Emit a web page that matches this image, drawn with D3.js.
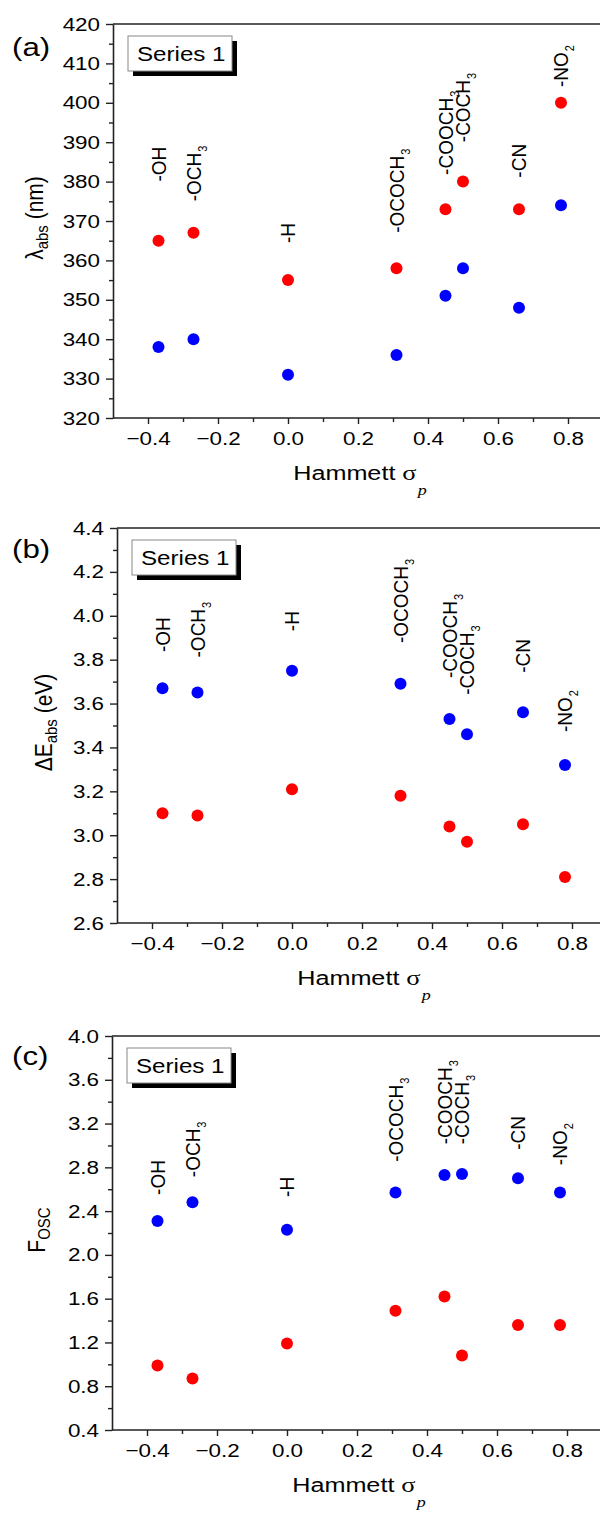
<!DOCTYPE html>
<html><head><meta charset="utf-8">
<script src="https://cdn.jsdelivr.net/npm/d3@7"></script>
<style>body{margin:0;background:#fff} svg{display:block}</style>
</head><body>
<svg id="chart" width="600" height="1513"></svg>
<script>
// ---------- data ----------
const substituents = ["-OH", "-OCH3", "-H", "-OCOCH3", "-COOCH3", "-COCH3", "-CN", "-NO2"];
const hammettSigmaP = [-0.37, -0.27, 0.00, 0.31, 0.45, 0.50, 0.66, 0.78];

const lambdaRed  = [365, 367, 355, 358, 373, 380, 373, 400];
const lambdaBlue = [338, 340, 331, 336, 351, 358, 348, 374];
const lambdaLabelAt = [380, 375, 364.4, 367, 381.7, 390, 381, 404];

const deltaEBlue = [3.67, 3.65, 3.75, 3.69, 3.53, 3.46, 3.56, 3.32];
const deltaERed  = [3.10, 3.09, 3.21, 3.18, 3.04, 2.97, 3.05, 2.81];
const deltaELabelAt = [3.835, 3.81, 3.93, 3.876, 3.716, 3.64, 3.74, 3.47];

const foscBlue = [2.31, 2.48, 2.23, 2.57, 2.73, 2.74, 2.70, 2.57];
const foscRed  = [0.99, 0.87, 1.19, 1.49, 1.62, 1.08, 1.36, 1.36];
const foscLabelAt = [2.548, 2.71, 2.53, 2.85, 3.01, 3.01, 2.96, 2.82];

const xTicks = [-0.4, -0.2, 0.0, 0.2, 0.4, 0.6, 0.8];
const xMinorTicks = [-0.3, -0.1, 0.1, 0.3, 0.5, 0.7];
const lambdaTicks = [320, 330, 340, 350, 360, 370, 380, 390, 400, 410, 420];
const lambdaMinorTicks = [325, 335, 345, 355, 365, 375, 385, 395, 405, 415];
const deltaETicks = [2.6, 2.8, 3.0, 3.2, 3.4, 3.6, 3.8, 4.0, 4.2, 4.4];
const deltaEMinorTicks = [2.7, 2.9, 3.1, 3.3, 3.5, 3.7, 3.9, 4.1, 4.3];
const foscTicks = [0.4, 0.8, 1.2, 1.6, 2.0, 2.4, 2.8, 3.2, 3.6, 4.0];
const foscMinorTicks = [0.6, 1.0, 1.4, 1.8, 2.2, 2.6, 3.0, 3.4, 3.8];

const legendLabel = "Series 1";
const xTitle = "Hammett ";
const panelLetters = ["(a)", "(b)", "(c)"];

// ---------- layout ----------
const SANS = "'Liberation Sans', Arial, sans-serif";
const SERIF = "'Liberation Serif', 'Times New Roman', serif";
const STRETCH = 1.18;
const RED = "#ff0000", BLUE = "#0000ff", INK = "#000";

const panels = [
  { letter: panelLetters[0], red: lambdaRed, blue: lambdaBlue, labelAt: lambdaLabelAt,
    domain: [320, 420], ticks: lambdaTicks, minor: lambdaMinorTicks, fmt: d3.format("d"),
    left: 113, right: 603, top: 24, bottom: 418, letterBase: 56, titleX: 43,
    title: [{t: "λ"}, {t: "abs", sub: true}, {t: " (nm)"}] },
  { letter: panelLetters[1], red: deltaERed, blue: deltaEBlue, labelAt: deltaELabelAt,
    domain: [2.6, 4.4], ticks: deltaETicks, minor: deltaEMinorTicks, fmt: d3.format(".1f"),
    left: 117, right: 607, top: 528, bottom: 923, letterBase: 558, titleX: 52,
    title: [{t: "ΔE"}, {t: "abs", sub: true}, {t: " (eV)"}] },
  { letter: panelLetters[2], red: foscRed, blue: foscBlue, labelAt: foscLabelAt,
    domain: [0.4, 4.0], ticks: foscTicks, minor: foscMinorTicks, fmt: d3.format(".1f"),
    left: 112, right: 602, top: 1036, bottom: 1430, letterBase: 1065, titleX: 45,
    title: [{t: "F"}, {t: "OSC", sub: true}] }
];

const svg = d3.select("#chart");

panels.forEach(p => {
  const x = d3.scaleLinear().domain([-0.5, 0.9]).range([p.left, p.right]);
  const y = d3.scaleLinear().domain(p.domain).range([p.bottom, p.top]);
  const g = svg.append("g");

  // top frame line
  g.append("line").attr("x1", p.left).attr("x2", p.right)
    .attr("y1", p.top).attr("y2", p.top)
    .attr("stroke", "#222").attr("stroke-width", 1.6);

  // y axis
  const yAxisG = g.append("g").attr("transform", `translate(${p.left},0)`)
    .call(d3.axisLeft(y).tickValues(p.ticks).tickFormat(p.fmt).tickSize(7).tickSizeOuter(0).tickPadding(4));
  const yMinorG = g.append("g").attr("transform", `translate(${p.left},0)`)
    .call(d3.axisLeft(y).tickValues(p.minor).tickFormat("").tickSize(4).tickSizeOuter(0));
  yMinorG.select(".domain").remove();

  // x axis
  const xAxisG = g.append("g").attr("transform", `translate(0,${p.bottom})`)
    .call(d3.axisBottom(x).tickValues(xTicks).tickFormat(d3.format(".1f")).tickSize(6).tickSizeOuter(0).tickPadding(8));
  const xMinorG = g.append("g").attr("transform", `translate(0,${p.bottom})`)
    .call(d3.axisBottom(x).tickValues(xMinorTicks).tickFormat("").tickSize(4).tickSizeOuter(0));
  xMinorG.select(".domain").remove();

  [yAxisG, yMinorG, xAxisG, xMinorG].forEach(a => {
    a.selectAll("path.domain").attr("stroke", "#222").attr("stroke-width", 1.6);
    a.selectAll(".tick line").attr("stroke", "#222").attr("stroke-width", 1.4);
  });
  yAxisG.selectAll(".tick text")
    .attr("font-family", SANS).attr("font-size", 19).attr("fill", INK)
    .attr("transform", `scale(${STRETCH},1)`);
  xAxisG.selectAll(".tick text")
    .attr("font-family", SANS).attr("font-size", 19).attr("fill", INK)
    .attr("transform", `scale(${STRETCH},1)`);
  xAxisG.select(".domain").attr("d", `M${p.left},0H${p.right}`);

  // x title
  const xt = g.append("text")
    .attr("transform", `translate(${(p.left + p.right) / 2 + 2},${p.bottom + 62}) scale(1.2,1)`)
    .attr("text-anchor", "middle").attr("font-family", SANS).attr("font-size", 21).attr("fill", INK);
  xt.append("tspan").text(xTitle);
  xt.append("tspan").attr("font-family", SERIF).attr("font-size", 22).text("σ");
  xt.append("tspan").attr("font-family", SERIF).attr("font-style", "italic").attr("font-size", 15)
    .attr("dx", 1).attr("dy", 15).text("p");

  // y title
  const yt = g.append("text")
    .attr("transform", `translate(${p.titleX},${(p.top + p.bottom) / 2 - 3}) scale(1.15,1) rotate(-90)`)
    .attr("text-anchor", "middle").attr("font-family", SANS).attr("font-size", 21).attr("fill", INK);
  p.title.forEach(part => {
    const ts = yt.append("tspan").text(part.t);
    if (part.sub) ts.attr("font-size", 15).attr("baseline-shift", "-30%");
  });

  // panel letter
  g.append("text").attr("transform", `translate(12,${p.letterBase}) scale(1.2,1)`)
    .attr("font-family", SANS).attr("font-size", 26).attr("fill", INK).text(p.letter);

  // legend
  const lx = p.left + 15, ly = p.top + 12, lw = 104, lh = 35;
  g.append("rect").attr("x", lx + 5).attr("y", ly + 5).attr("width", lw).attr("height", lh).attr("fill", "#000");
  g.append("rect").attr("x", lx).attr("y", ly).attr("width", lw).attr("height", lh)
    .attr("fill", "#fff").attr("stroke", "#888").attr("stroke-width", 1);
  g.append("text").attr("transform", `translate(${lx + 9},${ly + 25}) scale(1.15,1)`)
    .attr("font-family", SANS).attr("font-size", 21).attr("fill", INK).text(legendLabel);

  // points
  const idx = d3.range(hammettSigmaP.length);
  g.selectAll("circle.blue").data(idx).join("circle").attr("class", "blue")
    .attr("cx", i => x(hammettSigmaP[i])).attr("cy", i => y(p.blue[i])).attr("r", 6).attr("fill", BLUE);
  g.selectAll("circle.red").data(idx).join("circle").attr("class", "red")
    .attr("cx", i => x(hammettSigmaP[i])).attr("cy", i => y(p.red[i])).attr("r", 6).attr("fill", RED);

  // substituent labels (rotated)
  idx.forEach(i => {
    const name = substituents[i];
    const m = name.match(/^(.*?)(\d*)$/);
    const t = g.append("text")
      .attr("transform", `translate(${x(hammettSigmaP[i]) + 7},${y(p.labelAt[i])}) scale(1.1,1) rotate(-90)`)
      .attr("font-family", SANS).attr("font-size", 19).attr("fill", INK);
    t.append("tspan").text(m[1]);
    if (m[2]) t.append("tspan").attr("font-size", 11).attr("dx", 1).attr("baseline-shift", "-6").text(m[2]);
  });
});
</script>
</body></html>
